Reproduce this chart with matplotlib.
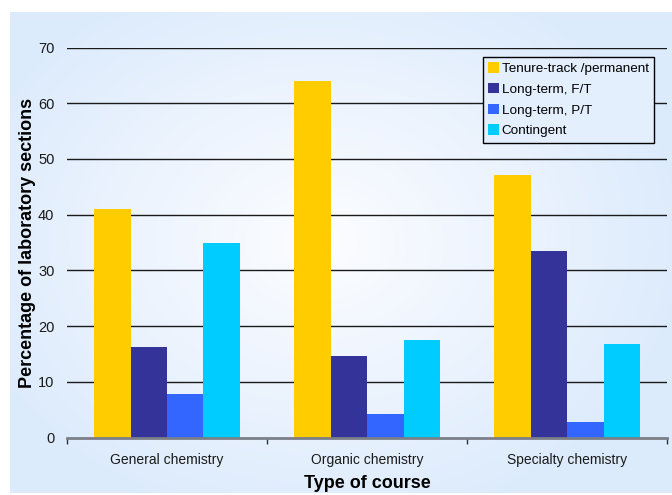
import numpy as np
import matplotlib.pyplot as plt
from matplotlib.colors import LinearSegmentedColormap

plt.rcParams['font.family'] = ['Liberation Sans', 'DejaVu Sans']

# Datos: porcentaje de secciones de laboratorio por tipo de curso
cursos = ['General chemistry', 'Organic chemistry', 'Specialty chemistry']
series = ['Tenure-track /permanent', 'Long-term, F/T', 'Long-term, P/T', 'Contingent']
tenure = [41.1, 63.9, 47.2]
long_ft = [16.2, 14.6, 33.4]
long_pt = [7.8, 4.2, 2.8]
contingent = [34.9, 17.5, 16.8]
colores = ['#FFCC00', '#333399', '#3366FF', '#00CCFF']

W, H = 672, 495
fig = plt.figure(figsize=(W / 100, H / 100), dpi=100)

# Fondo con degradado radial (blanco al centro, celeste en los bordes)
bg = fig.add_axes([10 / W, 2 / H, 662 / W, 481 / H], zorder=0)
yy, xx = np.mgrid[0:481, 0:662]
r = np.sqrt(((xx - 310) / 370.0) ** 2 + ((yy - 230) / 290.0) ** 2)
r = np.clip(r, 0, 1)
cmap_bg = LinearSegmentedColormap.from_list('bg', ['#FCFDFF', '#EDF4FE', '#DCEBFC'])
bg.imshow(r, cmap=cmap_bg, vmin=0, vmax=1, aspect='auto', interpolation='bilinear')
bg.axis('off')

ax = fig.add_axes([67 / W, (H - 437.5) / H, 600 / W, 390 / H], zorder=1)
ax.set_facecolor('none')

x = np.arange(len(cursos)) + 0.5
ancho = 0.1825
valores = [tenure, long_ft, long_pt, contingent]
for i, (vals, nombre, c) in enumerate(zip(valores, series, colores)):
    ax.bar(x + (i - 1.5) * ancho, vals, ancho, color=c, label=nombre, zorder=3, linewidth=0)

ax.set_xlim(0, 3)
ax.set_ylim(0, 70)
ax.set_yticks(range(0, 71, 10))
for v in range(10, 71, 10):
    ax.axhline(v, color='#1a1a1a', lw=1.0, zorder=1)

for s in ['top', 'right', 'left']:
    ax.spines[s].set_visible(False)
ax.spines['bottom'].set_color('#7a7f88')
ax.spines['bottom'].set_linewidth(2)
ax.spines['bottom'].set_zorder(4)

ax.set_xticks(x)
ax.set_xticklabels(cursos, fontsize=10, color='#1a1a1a')
ax.set_xticks([0, 1, 2, 3], minor=True)
ax.tick_params(axis='x', which='major', length=0, pad=11)
ax.tick_params(axis='x', which='minor', length=4, width=1, color='#333333', direction='out')
ax.tick_params(axis='y', length=0, pad=9, labelsize=10.5, labelcolor='#1a1a1a')

ax.set_xlabel('Type of course', fontsize=13, fontweight='bold', labelpad=6)
ax.set_ylabel('Percentage of laboratory sections', fontsize=13, fontweight='bold')
ax.yaxis.set_label_coords(-0.052, 0.5)

leg = ax.legend(loc='upper left', bbox_to_anchor=(483 / W, (H - 57) / H),
                bbox_transform=fig.transFigure, fontsize=9.7, frameon=True,
                fancybox=False, edgecolor='black', facecolor='#E4EFFD', framealpha=1,
                handlelength=0.8, handleheight=0.8, handletextpad=0.2,
                labelspacing=0.58, borderpad=0.4, borderaxespad=0)
leg.get_frame().set_linewidth(1)
leg.set_zorder(5)

fig.savefig('out.png', dpi=100)
